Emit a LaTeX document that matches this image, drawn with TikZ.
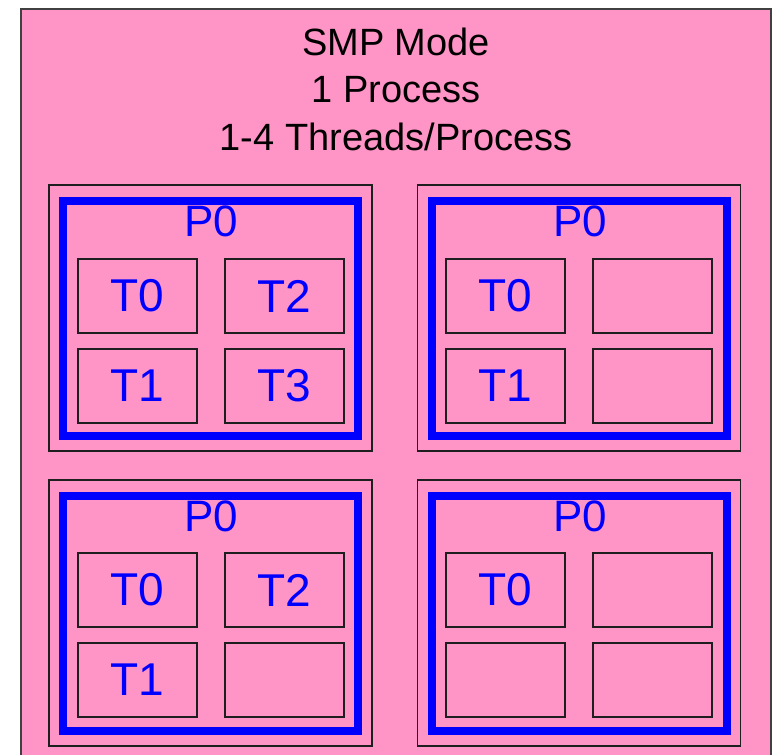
\documentclass[tikz,border=0pt]{standalone}
\usepackage{fontspec}
\setmainfont{Liberation Sans}
\usetikzlibrary{positioning}
\definecolor{smppink}{RGB}{255,148,198}
\definecolor{edgegray}{RGB}{30,30,30}

\begin{document}
\begin{tikzpicture}[
    x=0.5pt, y=-0.5pt,
    frame/.style={draw=edgegray!85, line width=0.75pt, fill=smppink, minimum width=375pt, minimum height=380pt, anchor=north west, inner sep=0, outer sep=0},
    core/.style={draw=edgegray, line width=0.7pt, minimum width=161.5pt, minimum height=133pt, inner sep=0, outer sep=0},
    proc/.style={draw=blue, line width=4pt, minimum width=147.5pt, minimum height=117.5pt, inner sep=0, outer sep=0},
    thread/.style={draw=edgegray, line width=0.8pt, minimum width=59.5pt, minimum height=37pt, inner sep=0, outer sep=0, text=blue, font=\fontsize{23}{27}\selectfont},
    plabel/.style={text=blue, font=\fontsize{22}{26}\selectfont, inner sep=0},
    node distance=8pt and 14pt
]
  \useasboundingbox (0,0) rectangle (773,755);
  \clip (0,0) rectangle (773,755);

  % Pink mode frame with title
  \node[frame] (smp) at (21,9) {};
  \node[align=center, inner sep=0, font=\fontsize{19}{23.75}\selectfont] (title) at (396,89) {SMP Mode\\1 Process\\1-4 Threads/Process};

  % Top-left core: 4 threads
  \node[core] (cpuA) at (210.5,318) {};
  \node[proc] (procA) at (cpuA) {};
  \node[plabel] (pA) at (211,221) {P0};
  \node[thread] (tA0) at (137.5,296) {T0};
  \node[thread, right=of tA0] (tA2) {T2};
  \node[thread, below=of tA0] (tA1) {T1};
  \node[thread, below=of tA2] (tA3) {T3};

  % Top-right core: 2 threads
  \node[core] (cpuB) at (579,318) {};
  \node[proc] (procB) at (cpuB) {};
  \node[plabel] (pB) at (580,221) {P0};
  \node[thread] (tB0) at (505.5,296) {T0};
  \node[thread, right=of tB0] (tB2) {};
  \node[thread, below=of tB0] (tB1) {T1};
  \node[thread, below=of tB2] (tB3) {};

  % Bottom-left core: 3 threads
  \node[core] (cpuC) at (210.5,613) {};
  \node[proc] (procC) at (cpuC) {};
  \node[plabel] (pC) at (211,516) {P0};
  \node[thread] (tC0) at (137.5,590) {T0};
  \node[thread, right=of tC0] (tC2) {T2};
  \node[thread, below=of tC0] (tC1) {T1};
  \node[thread, below=of tC2] (tC3) {};

  % Bottom-right core: 1 thread
  \node[core] (cpuD) at (579,613) {};
  \node[proc] (procD) at (cpuD) {};
  \node[plabel] (pD) at (580,516) {P0};
  \node[thread] (tD0) at (505.5,590) {T0};
  \node[thread, right=of tD0] (tD2) {};
  \node[thread, below=of tD0] (tD1) {};
  \node[thread, below=of tD2] (tD3) {};

\end{tikzpicture}
\end{document}
